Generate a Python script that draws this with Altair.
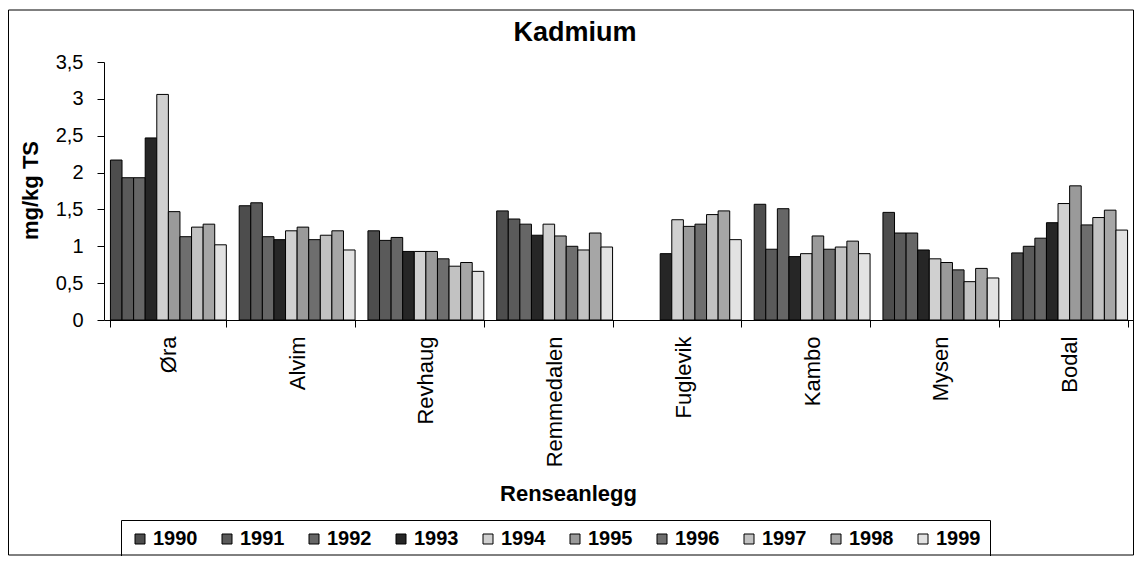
import altair as alt
import pandas as pd

chart_title = "Kadmium"
categories = ["Øra", "Alvim", "Revhaug", "Remmedalen", "Fuglevik", "Kambo", "Mysen", "Bodal"]
years = ["1990", "1991", "1992", "1993", "1994", "1995", "1996", "1997", "1998", "1999"]

ora = [2.17, 1.93, 1.93, 2.47, 3.06, 1.47, 1.13, 1.26, 1.30, 1.02]
alvim = [1.55, 1.59, 1.13, 1.09, 1.21, 1.26, 1.09, 1.15, 1.21, 0.95]
revhaug = [1.21, 1.08, 1.12, 0.93, 0.93, 0.93, 0.83, 0.73, 0.78, 0.66]
remmedalen = [1.48, 1.37, 1.30, 1.15, 1.30, 1.14, 1.00, 0.95, 1.18, 0.99]
fuglevik = [None, None, None, 0.90, 1.36, 1.27, 1.30, 1.43, 1.48, 1.09]
kambo = [1.57, 0.96, 1.51, 0.86, 0.90, 1.14, 0.96, 0.99, 1.07, 0.90]
mysen = [1.46, 1.18, 1.18, 0.95, 0.83, 0.78, 0.68, 0.52, 0.70, 0.57]
bodal = [0.91, 1.00, 1.11, 1.32, 1.58, 1.82, 1.29, 1.39, 1.49, 1.22]

series = [ora, alvim, revhaug, remmedalen, fuglevik, kambo, mysen, bodal]

year_colors = ["#4d4d4d", "#5a5a5a", "#666666", "#262626", "#d0d0d0",
               "#9a9a9a", "#6e6e6e", "#c2c2c2", "#a6a6a6", "#e2e2e2"]

y_ticks = [0, 0.5, 1, 1.5, 2, 2.5, 3, 3.5]

rows = []
for cat, vals in zip(categories, series):
    for yr, v in zip(years, vals):
        if v is not None:
            rows.append({"Renseanlegg": cat, "Year": yr, "Value": v})
df = pd.DataFrame(rows)

FONT = "Liberation Sans"

bars = alt.Chart(df).mark_bar(stroke="black", strokeWidth=1).encode(
    x=alt.X(
        "Renseanlegg:N",
        sort=categories,
        scale=alt.Scale(domain=categories, paddingInner=0.1, paddingOuter=0.05),
        axis=alt.Axis(
            title="Renseanlegg",
            labelAngle=-90,
            labelFontSize=22,
            labelPadding=9,
            tickBand="extent",
            tickSize=7,
            titleFontSize=22,
            titleFontWeight="bold",
            titleX=464,
            titleY=173,
            titleBaseline="middle",
            titleAlign="center",
        ),
    ),
    xOffset=alt.XOffset(
        "Year:N",
        sort=years,
        scale=alt.Scale(domain=years, paddingInner=0, paddingOuter=0),
    ),
    y=alt.Y(
        "Value:Q",
        scale=alt.Scale(domain=[0, 3.5], nice=False),
        axis=alt.Axis(
            title="mg/kg TS",
            values=y_ticks,
            labelExpr="replace(format(datum.value, '.1~f'), '.', ',')",
            grid=False,
            tickSize=7,
            labelPadding=14,
            labelFontSize=20,
            titleFontSize=22,
            titleFontWeight="bold",
            titleX=-74,
            titleY=128,
            titleAngle=270,
            titleBaseline="middle",
            titleAlign="center",
        ),
    ),
    fill=alt.Fill(
        "Year:N",
        sort=years,
        scale=alt.Scale(domain=years, range=year_colors),
        legend=alt.Legend(
            title=None,
            orient="none",
            legendX=17,
            legendY=458,
            direction="horizontal",
            columns=10,
            symbolType="square",
            symbolSize=100,
            symbolStrokeColor="black",
            symbolStrokeWidth=1,
            labelFontSize=20,
            labelFontWeight="bold",
            labelOffset=3,
            columnPadding=19,
            padding=9,
            strokeColor="black",
        ),
    ),
)

frame_df = pd.DataFrame({"k": [0]})
frame = alt.Chart(frame_df).mark_rect(fillOpacity=0, stroke="black", strokeWidth=1).encode(
    x=alt.value(-95.5),
    x2=alt.value(1029.5),
    y=alt.value(-52),
    y2=alt.value(493),
)

title_df = pd.DataFrame({"t": [chart_title]})
title = alt.Chart(title_df).mark_text(
    font=FONT, fontSize=27, fontWeight="bold", color="black",
    align="center", baseline="middle",
).encode(
    text="t:N",
    x=alt.value(471),
    y=alt.value(-29),
)

chart = alt.layer(frame, bars, title).properties(
    width=1030,
    height=258,
    autosize=alt.AutoSizeParams(type="none"),
    padding={"left": 96, "top": 54, "right": 0, "bottom": 236},
).configure(
    font=FONT,
).configure_axis(
    labelFont=FONT,
    titleFont=FONT,
    labelColor="black",
    titleColor="black",
    domainColor="black",
    tickColor="black",
).configure_legend(
    labelFont=FONT,
    labelColor="black",
    strokeWidth=1,
).configure_view(
    strokeWidth=0,
)

chart.save("out.html", embed_options={"renderer": "svg", "actions": False})
